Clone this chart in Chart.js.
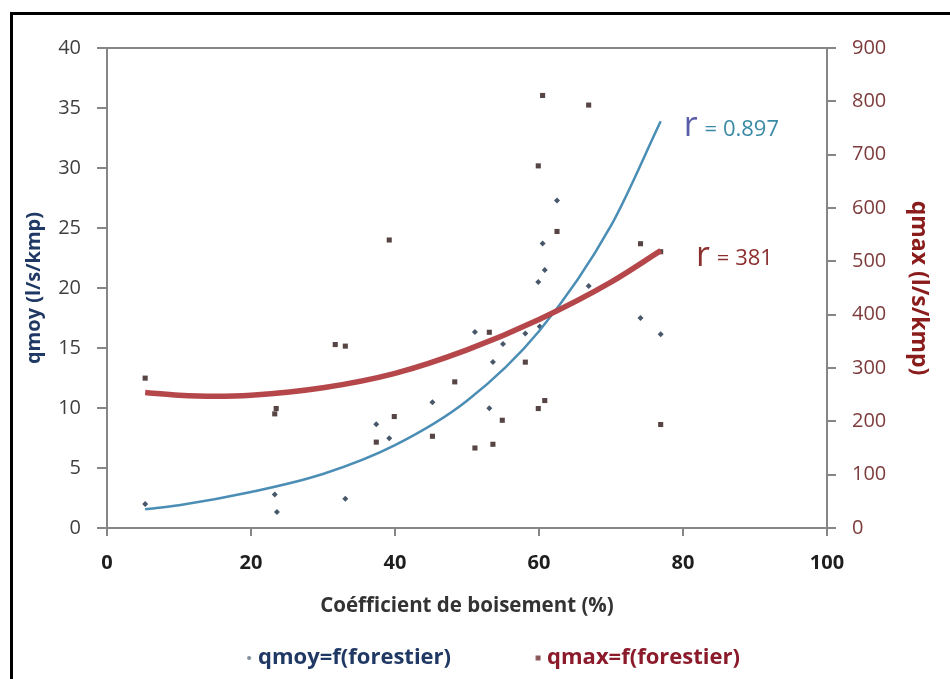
<!DOCTYPE html>
<html><head><meta charset="utf-8">
<script src="https://cdn.jsdelivr.net/npm/chart.js@4.4.1/dist/chart.umd.min.js"></script>
<style>html,body{margin:0;padding:0;background:#fff;}#wrap{width:950px;height:679px;}</style>
</head><body><div id="wrap"><canvas id="c" width="950" height="679"></canvas></div>
<script>
// ---- data ----
const qmoyX = [5.3, 23.3, 23.6, 33.1, 37.4, 39.2, 45.2, 51.1, 53.1, 53.6, 55.0, 58.1, 60.1, 59.9, 60.8, 60.5, 62.5, 66.9, 74.1, 76.9];
const qmoyY = [2.0, 2.8, 1.33, 2.44, 8.64, 7.47, 10.47, 16.33, 9.97, 13.83, 15.33, 16.2, 16.8, 20.5, 21.5, 23.7, 27.3, 20.17, 17.5, 16.14];
const qmaxX = [5.3, 23.5, 23.3, 31.7, 33.1, 37.4, 39.9, 39.2, 45.2, 48.3, 51.1, 53.1, 53.6, 54.9, 58.1, 59.9, 60.8, 60.5, 66.9, 59.9, 62.5, 74.1, 76.9, 76.9];
const qmaxY = [281, 224, 214, 344, 341, 161, 209, 540, 172, 274, 150, 367, 157, 202, 311, 224, 239, 811, 793, 679, 556, 533, 194, 518];
const trendMoyX = [5.3, 10, 20, 30, 40, 50, 60, 70, 76.9];
const trendMoyY = [1.56, 1.9, 3.0, 4.5, 6.9, 10.6, 16.4, 25.2, 33.9];
const trendMaxX = [5.3, 10, 15, 20, 30, 40, 50, 60, 70, 76.9];
const trendMaxY = [254, 249, 247, 249, 263, 290, 334, 391, 461, 520];
const xTicks = [0, 20, 40, 60, 80, 100];
const leftTicks = [0, 5, 10, 15, 20, 25, 30, 35, 40];
const rightTicks = [0, 100, 200, 300, 400, 500, 600, 700, 800, 900];
const seriesNames = ['qmoy=f(forestier)', 'qmax=f(forestier)'];
const rLabels = ['= 0.897', '= 381'];

const pts = (xs, ys) => xs.map((x, i) => ({x: x, y: ys[i]}));
const FONT = "'Open Sans', 'Liberation Sans', sans-serif";
const AX = '#868686';
const LEG_BOX = 35;

// legend marker: transparent strip with the visible mark at its right end
function marker(kind, size, color) {
  const c = document.createElement('canvas');
  c.width = LEG_BOX + 10; c.height = 6;
  const g = c.getContext('2d');
  g.fillStyle = color;
  const cx = c.width - 3;
  if (kind === 'circle') { g.beginPath(); g.arc(cx, 3, size / 2, 0, Math.PI * 2); g.fill(); }
  else g.fillRect(cx - size / 2, 3 - size / 2, size, size);
  return c;
}
const legMoy = marker('circle', 4, '#7e8e9c');
const legMax = marker('rect', 5, '#8a5656');

const framePlugin = {
  id: 'frame',
  afterDraw(chart) {
    const {ctx, chartArea: a, scales} = chart;
    ctx.save();
    ctx.strokeStyle = AX; ctx.lineWidth = 2;
    ctx.beginPath(); ctx.moveTo(a.left, a.top); ctx.lineTo(a.right, a.top); ctx.stroke();
    ctx.strokeStyle = '#000'; ctx.lineWidth = 3;
    ctx.strokeRect(11.5, 13.5, 960, 700);
    const sx = scales.x;
    const drawR = (xv, py, bigColor, smallColor, txt) => {
      const px = sx.getPixelForValue(xv);
      ctx.textBaseline = 'middle'; ctx.textAlign = 'left';
      ctx.font = "34px " + FONT; ctx.fillStyle = bigColor;
      ctx.fillText('r', px, py - 3);
      const w = ctx.measureText('r').width;
      ctx.font = "22px " + FONT; ctx.fillStyle = smallColor;
      ctx.fillText(txt, px + w + 7, py);
    };
    drawR(80.1, scales.y.getPixelForValue(33.2), '#5a5ea8', '#3a8aa6', rLabels[0]);
    drawR(81.8, scales.y2.getPixelForValue(504), '#8c2f2f', '#8c2f2f', rLabels[1]);
    ctx.restore();
  }
};

new Chart(document.getElementById('c'), {
  type: 'scatter',
  data: {
    datasets: [
      {label: seriesNames[0], data: pts(qmoyX, qmoyY), yAxisID: 'y', pointStyle: 'rectRot', pointRadius: 3, backgroundColor: '#47586a', borderWidth: 0, order: 3},
      {label: seriesNames[1], data: pts(qmaxX, qmaxY), yAxisID: 'y2', pointStyle: 'rect', pointRadius: 3.6, backgroundColor: '#574444', borderWidth: 0, order: 4},
      {label: 'trend qmoy', data: pts(trendMoyX, trendMoyY), yAxisID: 'y', showLine: true, pointRadius: 0, borderColor: '#4a8db5', borderWidth: 2.5, cubicInterpolationMode: 'monotone', order: 2},
      {label: 'trend qmax', data: pts(trendMaxX, trendMaxY), yAxisID: 'y2', showLine: true, pointRadius: 0, borderColor: '#b5474b', borderWidth: 5.5, cubicInterpolationMode: 'monotone', order: 1}
    ]
  },
  options: {
    responsive: false, animation: false, devicePixelRatio: 1,
    layout: {padding: {top: 48, left: 2, right: 0, bottom: 0}},
    plugins: {
      tooltip: {enabled: false},
      legend: {
        position: 'bottom', align: 'center',
        labels: {
          usePointStyle: true, pointStyleWidth: LEG_BOX, boxHeight: 5, padding: 50,
          font: {family: FONT, size: 22, weight: 'bold'},
          generateLabels: () => [
            {text: seriesNames[0], pointStyle: legMoy, fillStyle: '#7e8e9c', strokeStyle: '#7e8e9c', lineWidth: 0, fontColor: '#1f3864', hidden: false, datasetIndex: 0},
            {text: seriesNames[1], pointStyle: legMax, fillStyle: '#8a5656', strokeStyle: '#8a5656', lineWidth: 0, fontColor: '#8b1a2a', hidden: false, datasetIndex: 1}
          ]
        }
      }
    },
    scales: {
      x: {
        type: 'linear', min: 0, max: 100,
        afterBuildTicks: s => { s.ticks = xTicks.map(v => ({value: v})); },
        afterFit: s => { s.height = 69; },
        ticks: {font: {family: FONT, size: 20, weight: 'bold'}, color: '#1e1e1e', padding: 15},
        grid: {drawOnChartArea: false, tickLength: 8, color: AX, lineWidth: 2},
        border: {color: AX, width: 2},
        title: {display: true, text: 'Coéfficient de boisement (%)', font: {family: FONT, size: 20.5, weight: 'bold'}, color: '#333333', padding: {top: 0, bottom: -21}}
      },
      y: {
        type: 'linear', position: 'left', min: 0, max: 40,
        afterBuildTicks: s => { s.ticks = leftTicks.map(v => ({value: v})); },
        afterFit: s => { s.width = 105; },
        ticks: {font: {family: FONT, size: 20}, color: '#3f3f3f', padding: 16},
        grid: {drawOnChartArea: false, tickLength: 10, color: AX, lineWidth: 2},
        border: {color: AX, width: 2},
        title: {display: true, text: 'qmoy (l/s/kmp)', font: {family: FONT, size: 20, weight: 'bold'}, color: '#1f3864', padding: {top: 20, bottom: 0}}
      },
      y2: {
        type: 'linear', position: 'right', min: 0, max: 900,
        afterBuildTicks: s => { s.ticks = rightTicks.map(v => ({value: v})); },
        afterFit: s => { s.width = 123; },
        ticks: {font: {family: FONT, size: 20}, color: '#7d3b3b', padding: 16},
        grid: {drawOnChartArea: false, tickLength: 9, color: AX, lineWidth: 2},
        border: {color: AX, width: 2},
        title: {display: true, text: 'qmax (l/s/kmp)', font: {family: FONT, size: 23, weight: 'bold'}, color: '#8b1c1c', padding: {top: 18, bottom: 0}}
      }
    }
  },
  plugins: [framePlugin]
});
</script></body></html>
